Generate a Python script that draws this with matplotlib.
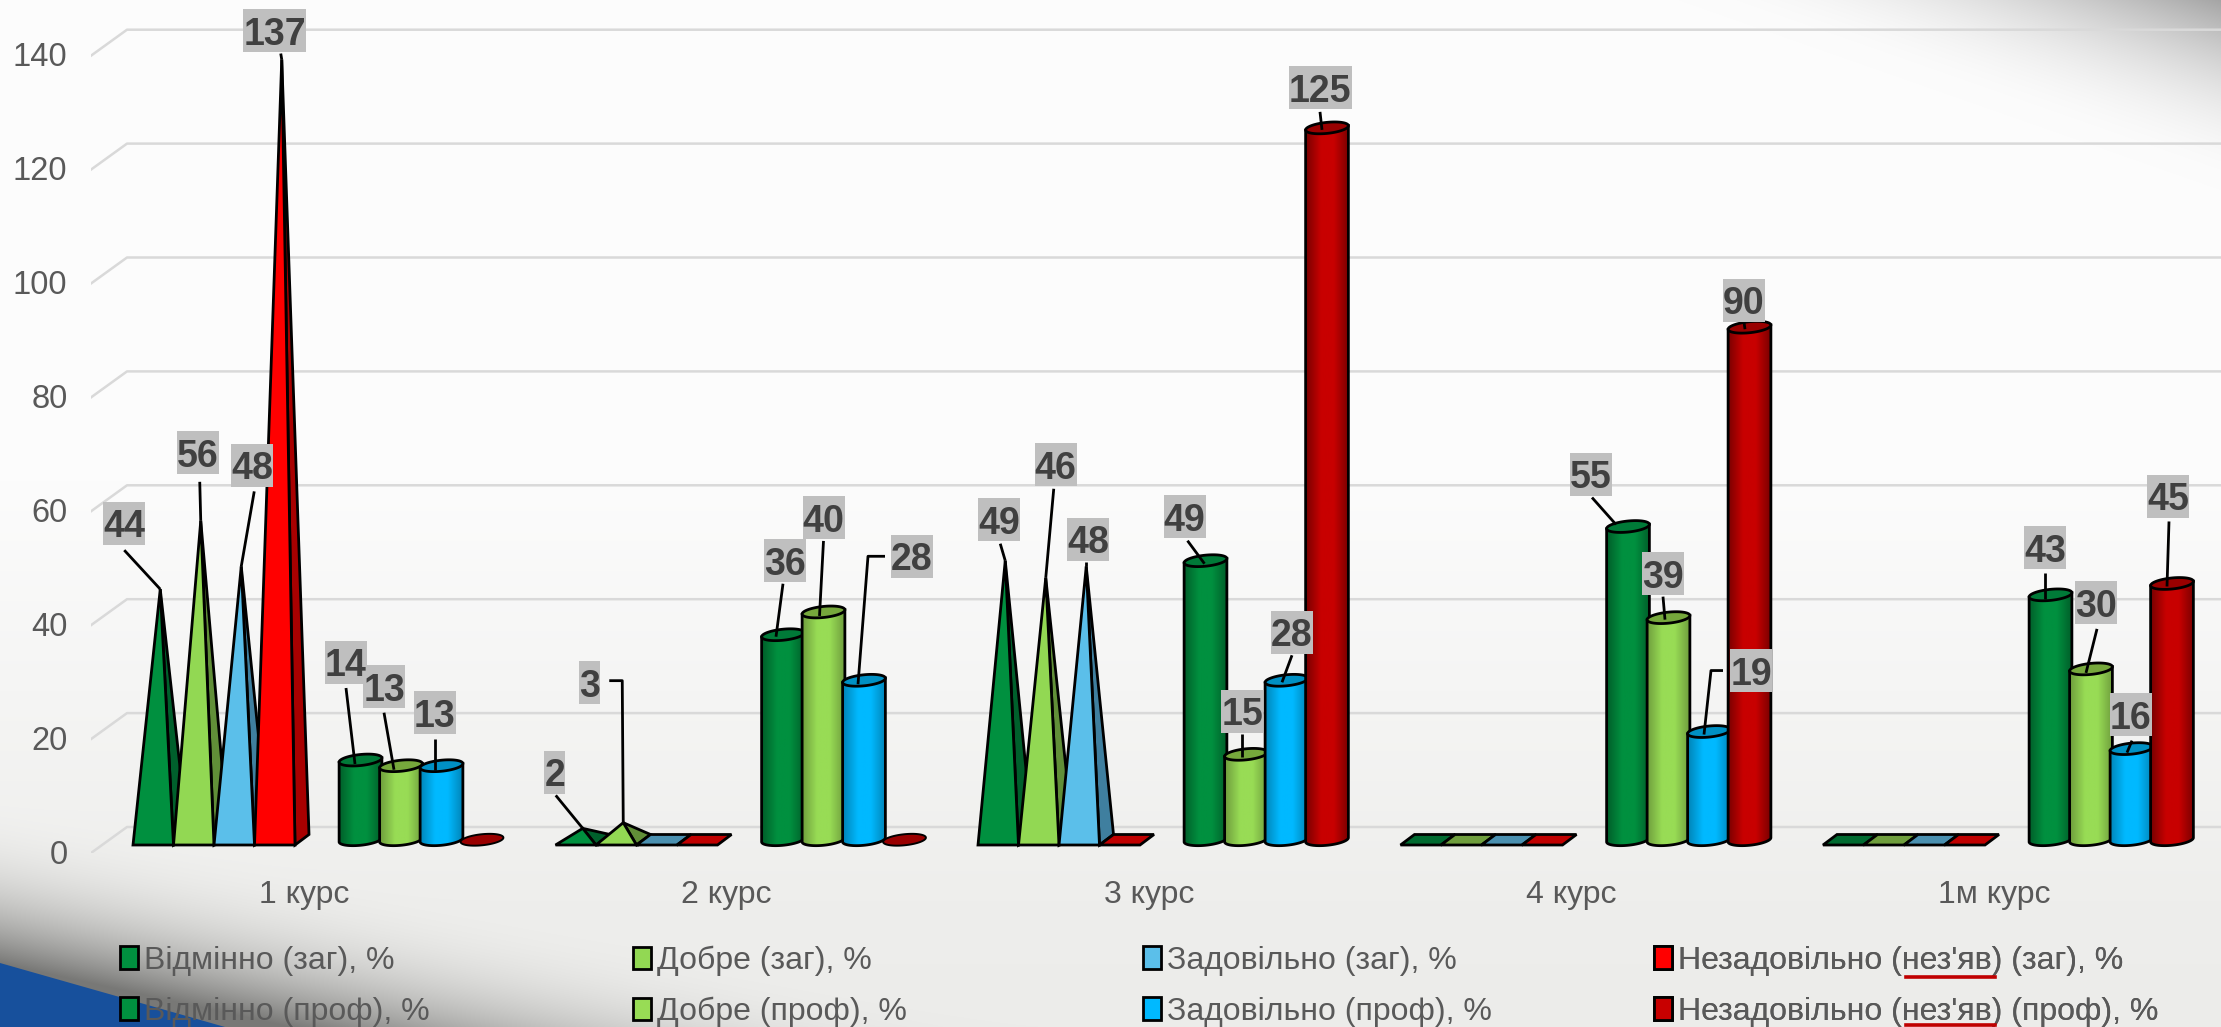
import numpy as np
import matplotlib
matplotlib.use('Agg')
import matplotlib.pyplot as plt
from matplotlib.patches import Polygon, Patch, Rectangle
from matplotlib.lines import Line2D

plt.rcParams['font.family'] = ['Liberation Sans', 'DejaVu Sans']

# data
courses = ['1 курс', '2 курс', '3 курс', '4 курс', '1м курс']
y_ticks = [0, 20, 40, 60, 80, 100, 120, 140]

excellent_all = [44, 2, 49, 0, 0]
good_all = [56, 3, 46, 0, 0]
fair_all = [48, 0, 48, 0, 0]
fail_all = [137, 0, 0, 0, 0]

excellent_prof = [14, 36, 49, 55, 43]
good_prof = [13, 40, 15, 39, 30]
fair_prof = [13, 28, 28, 19, 16]
fail_prof = [0, 0, 125, 90, 45]

names_all = ['Відмінно (заг), %', 'Добре (заг), %', 'Задовільно (заг), %',
             "Незадовільно (нез'яв) (заг), %"]
names_prof = ['Відмінно (проф), %', 'Добре (проф), %', 'Задовільно (проф), %',
              "Незадовільно (нез'яв) (проф), %"]

series_all = [excellent_all, good_all, fair_all, fail_all]
series_prof = [excellent_prof, good_prof, fair_prof, fail_prof]

# colours: front, side / main, dark, top
cols_all = ['#00903f', '#92d853', '#5bbfea', '#ff0000']
side_all = ['#00602c', '#618f38', '#3f7f9f', '#a80000']
flat_all = ['#006a30', '#6f9e3d', '#4a90b0', '#c00000']
cols_prof = ['#00903f', '#98dc55', '#00b9ff', '#c80000']
dark_prof = ['#005f2a', '#6f9e3d', '#0085b8', '#7a0000']
top_prof = ['#007a38', '#76a83c', '#0090c4', '#990000']

# label placement, px from the top of each mark: (label, leader points...)
leaders_all = {
    (0, 0): [(-36, -66), (-36, -39), (0, 0)],
    (1, 0): [(-3, -68), (-1, -39), (0, 0)],
    (2, 0): [(11, -101), (13, -75), (0, 0)],
    (3, 0): [(-7, -29), (-1, -6), (0, 0)],
    (0, 1): [(-28, -56), (-27, -33), (0, 0)],
    (1, 1): [(-34, -140), (-14, -142), (-1, -142), (0, 0)],
    (0, 2): [(-6, -41), (-5, -17), (0, 0)],
    (1, 2): [(10, -113), (8, -89), (0, 0)],
    (2, 2): [(2, -27), (0, -4), (0, 0)],
}
leaders_prof = {
    (0, 0): [(-14.5, -98), (-14.5, -72), (-5.5, 4)],
    (1, 0): [(-17, -79), (-17, -53), (-7, 4)],
    (2, 0): [(-6.5, -53), (-6.5, -27), (-6.5, 4)],
    (0, 1): [(2, -74), (0, -51), (-7, 2)],
    (1, 1): [(0, -94), (0, -71), (-4, 4)],
    (2, 1): [(48, -124), (21, -124), (4, -124), (-6, 4)],
    (0, 2): [(-21, -44), (-18, -20), (-1, 3)],
    (1, 2): [(-4, -43), (-4, -20), (-4, 3)],
    (2, 2): [(5.5, -48), (5.5, -25), (-4.5, 2)],
    (3, 2): [(-7, -40), (-7, -16), (-5, 2)],
    (0, 3): [(-37, -52.5), (-36, -29), (-12, -2)],
    (1, 3): [(-5.5, -44), (-5.5, -21), (-3.5, 2)],
    (2, 3): [(42, -61), (14, -61), (2, -61), (-5, 3)],
    (3, 3): [(-5.5, -27), (-5.5, -5), (-4.5, 2)],
    (0, 4): [(-5.5, -47), (-5.5, -22), (-5.5, 4)],
    (1, 4): [(5, -66), (6, -40), (-5, 4)],
    (2, 4): [(-0.5, -34), (0.5, -8), (-4.5, 4)],
    (3, 4): [(-4, -87), (-3, -62), (-5, 3)],
}

W, H = 2221, 1027
GROUP_PX = 422.5
UNIT_PX = 5.695
X0_PX, Y0_PX = 133, 845      # where group 0 starts, value 0 on the front
STEP = 40.5 / GROUP_PX
DEPTH_X = 14 / GROUP_PX
DEPTH_Y = 10.5 / UNIT_PX
CYL_START = (339 - X0_PX) / GROUP_PX
CYL_W = 43 / GROUP_PX
WALL_X = 36 / GROUP_PX
WALL_Y = 26 / UNIT_PX
FRONT_OFF = -8 / UNIT_PX     # front end of a gridline sits a bit under the value
EDGE = 2.0

fig = plt.figure(figsize=(W / 100, H / 100), dpi=100)

# background
bg = fig.add_axes([0, 0, 1, 1], zorder=-1)
xx, yy = np.meshgrid(np.arange(W), np.arange(H))
base = np.interp(yy, [0, 480, 900, H], [252, 252, 238, 236])
d1 = yy - (963 + 0.22 * xx)
shade1 = np.clip(1 + d1 / 170, 0, 1) ** 2.5
d2 = yy + (W - xx) * 0.35
shade2 = np.clip(1 - d2 / 190, 0, 1) ** 2
gray = base * (1 - shade1) + 120 * shade1
gray = gray * (1 - shade2) + 165 * shade2
warm = np.interp(yy, [480, 900], [0, 2])
bg.imshow(np.dstack([gray, gray, gray - warm]).astype(np.uint8), extent=[0, W, H, 0], aspect='auto')
bg.add_patch(Polygon([(0, 963), (225, 1027), (0, 1027)], facecolor='#17509c', edgecolor='none'))
bg.set_xlim(0, W)
bg.set_ylim(H, 0)
bg.axis('off')

# main axes: left edge and bottom are the front edge of the chart floor
ax_left, ax_bottom = 91, H - 853
ax = fig.add_axes([ax_left / W, ax_bottom / H, (W - ax_left) / W, 853 / H])
ax.patch.set_visible(False)
for s in ax.spines.values():
    s.set_visible(False)


def px_x(p):
    return p / GROUP_PX


def px_y(p):
    return -p / UNIT_PX


def ellipse_pts(cx, cy, t):
    a, b, tilt = 21.5, 5.5, np.radians(6)
    ex = a * np.cos(t) * np.cos(tilt) - b * np.sin(t) * np.sin(tilt)
    ey = a * np.cos(t) * np.sin(tilt) + b * np.sin(t) * np.cos(tilt)
    return np.column_stack([cx + ex / GROUP_PX, cy + ey / UNIT_PX])


def draw_pyramid(x0, v, j):
    w = STEP
    if v == 0:
        pts = [(x0, 0), (x0 + w, 0), (x0 + w + DEPTH_X, DEPTH_Y), (x0 + DEPTH_X, DEPTH_Y)]
        ax.add_patch(Polygon(pts, facecolor=flat_all[j], edgecolor='black', lw=EDGE, zorder=3))
        return
    apex = (x0 + w / 2 + DEPTH_X / 2, v + DEPTH_Y / 2)
    ax.add_patch(Polygon([(x0 + w, 0), (x0 + w + DEPTH_X, DEPTH_Y), apex],
                         facecolor=side_all[j], edgecolor='black', lw=EDGE, zorder=3))
    ax.add_patch(Polygon([(x0, 0), (x0 + w, 0), apex],
                         facecolor=cols_all[j], edgecolor='black', lw=EDGE, zorder=3))


def draw_cylinder(x0, v, j, z):
    cx = x0 + CYL_W / 2
    cy = DEPTH_Y / 2
    t_all = np.linspace(0, 2 * np.pi, 80)
    if v == 0:
        ax.add_patch(Polygon(ellipse_pts(cx, cy, t_all), facecolor=top_prof[j], edgecolor='black',
                             lw=EDGE * 0.7, zorder=z))
        return
    low = ellipse_pts(cx, cy, np.linspace(2 * np.pi, np.pi, 40))
    high = ellipse_pts(cx, cy + v, np.array([np.pi, 2 * np.pi]))
    body = Polygon(np.vstack([high, low]), facecolor='none', edgecolor='black', lw=EDGE, zorder=z + 0.2)
    ax.add_patch(body)
    # shading across the cylinder
    f = np.linspace(0, 1, 64)
    c0 = np.array(matplotlib.colors.to_rgb(dark_prof[j]))
    c1 = np.array(matplotlib.colors.to_rgb(cols_prof[j]))
    m = np.interp(f, [0, 0.35, 0.65, 1], [0, 1, 1, 0])[:, None]
    strip = (c0 * (1 - m) + c1 * m)[None, :, :]
    im = ax.imshow(strip, extent=[x0, x0 + CYL_W, -2, v + 3], aspect='auto', zorder=z + 0.1)
    im.set_clip_path(body)
    ax.add_patch(Polygon(ellipse_pts(cx, cy + v, t_all), facecolor=top_prof[j], edgecolor='black',
                         lw=EDGE, zorder=z + 0.3))


def draw_label(ax_x, ax_y, v, pts):
    lx, ly = pts[0]
    line = pts[1:]
    ax.plot([ax_x + px_x(p[0]) for p in line], [ax_y + px_y(p[1]) for p in line],
            color='black', lw=2.0, zorder=30, solid_capstyle='butt')
    box_w = px_x(21 * len(str(v)))
    box_h = 43 / UNIT_PX
    cx, cy = ax_x + px_x(lx), ax_y + px_y(ly)
    ax.add_patch(Rectangle((cx - box_w / 2, cy - box_h / 2), box_w, box_h, facecolor='#bfbfbf',
                           edgecolor='none', zorder=31, clip_on=False))
    ax.text(cx, cy, str(v), ha='center', va='center_baseline', fontsize=27, fontweight='bold',
            color='#404040', zorder=32, clip_on=False)


# gridlines with the little wall part on the left
for v in y_ticks:
    front = v + FRONT_OFF
    back = front + WALL_Y
    ax.plot([px_x(91 - X0_PX), px_x(91 - X0_PX) + WALL_X, 5.5], [front, back, back],
            color='#d9d9d9', lw=1.8, zorder=1, clip_on=True)

for i in range(len(courses)):
    for j, vals in enumerate(series_all):
        x0 = i + j * STEP
        draw_pyramid(x0, vals[i], j)
        if (j, i) in leaders_all:
            draw_label(x0 + STEP / 2 + DEPTH_X / 2, vals[i] + DEPTH_Y / 2, vals[i], leaders_all[(j, i)])
    for j, vals in enumerate(series_prof):
        x0 = i + CYL_START + j * STEP
        draw_cylinder(x0, vals[i], j, 4 + j)
        if (j, i) in leaders_prof:
            draw_label(x0 + CYL_W / 2, vals[i] + DEPTH_Y / 2, vals[i], leaders_prof[(j, i)])

ax.set_xlim(px_x(ax_left - X0_PX), px_x(W - X0_PX))
ax.set_ylim(-(853 - Y0_PX) / UNIT_PX, Y0_PX / UNIT_PX)

# tick labels sit a little above the gridline ends
ax.set_yticks([v + FRONT_OFF + 1.5 / UNIT_PX for v in y_ticks])
ax.set_yticklabels([str(v) for v in y_ticks])
ax.set_xticks([i + (304 - X0_PX) / GROUP_PX for i in range(len(courses))])
ax.set_xticklabels(courses)
ax.tick_params(axis='y', length=0, pad=17, labelsize=23.5, labelcolor='#595959')
ax.tick_params(axis='x', length=0, pad=19.5, labelsize=23, labelcolor='#595959')

# legend, one block per column
legend_x = [120, 633, 1143, 1654]
for j in range(4):
    handles = [Patch(facecolor=cols_all[j], edgecolor='black', lw=2, label=names_all[j]),
               Patch(facecolor=cols_prof[j], edgecolor='black', lw=2, label=names_prof[j])]
    leg = ax.legend(handles=handles, loc='upper left', bbox_to_anchor=(legend_x[j] / W, 1 - 945.5 / H),
                    bbox_transform=fig.transFigure, ncol=1, frameon=False, fontsize=23,
                    labelcolor='#595959', borderpad=0, borderaxespad=0, handlelength=0.55,
                    handleheight=0.7, handletextpad=0.2, labelspacing=0.66)
    ax.add_artist(leg)

# spell-check underline in the last column
for y in [977, 1025]:
    fig.add_artist(Line2D([1906 / W, 1995 / W], [1 - y / H, 1 - y / H], color='#c00000', lw=2.6))

fig.savefig('out.png', dpi=100)
